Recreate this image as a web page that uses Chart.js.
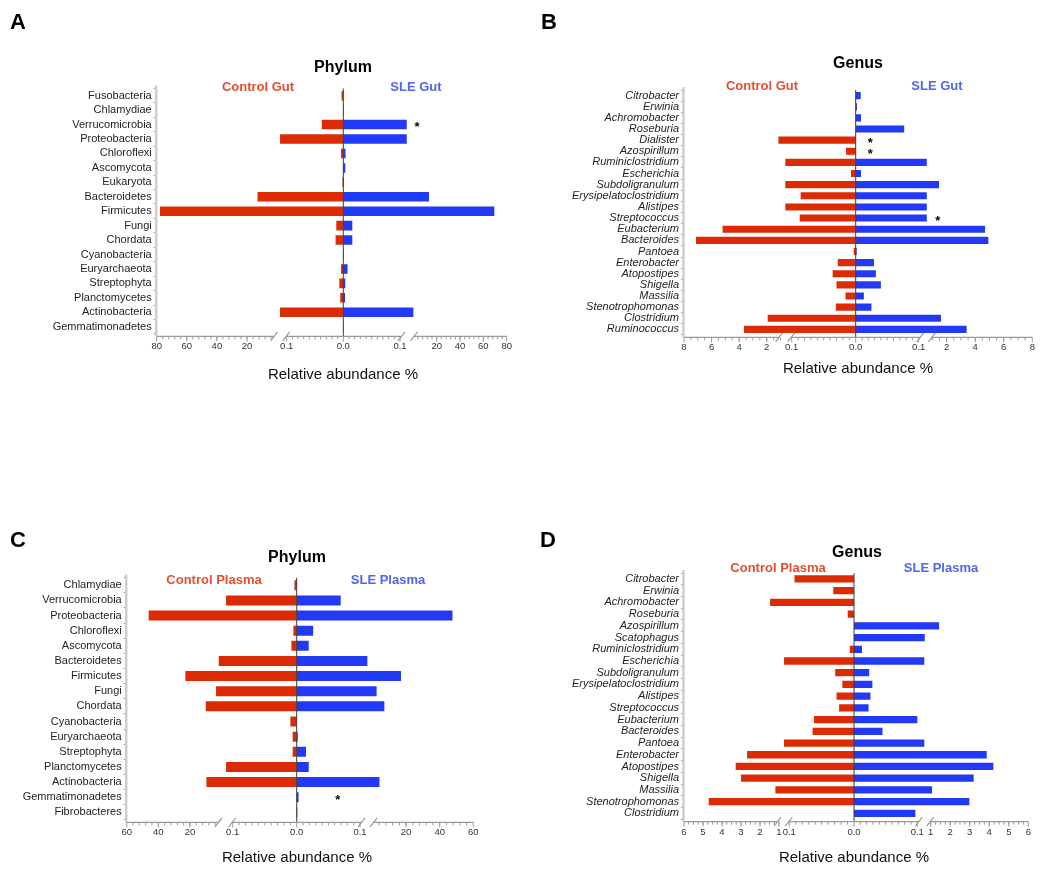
<!DOCTYPE html>
<html>
<head>
<meta charset="utf-8">
<script src="https://cdn.jsdelivr.net/npm/chart.js@4.4.0/dist/chart.umd.min.js"></script>
<style>
  body { margin: 0; background: #fff; font-family: "Liberation Sans", Arial, Helvetica, sans-serif; }
  #wrap { position: relative; width: 1050px; height: 870px; overflow: hidden; }
  canvas { position: absolute; }
  .t { position: absolute; white-space: nowrap; transform: translate(-50%, -50%); line-height: 1; }
  .letter { font-size: 22px; font-weight: bold; color: #000; }
  .ttl { font-size: 16px; font-weight: bold; color: #000; }
  .grp { font-size: 13px; font-weight: bold; }
  .ctl { color: #e4502f; }
  .sle { color: #5165ee; }
  .axt { font-size: 15px; color: #111; }
</style>
</head>
<body>
<div id="wrap">
  <canvas id="cA"></canvas>
  <canvas id="cB"></canvas>
  <canvas id="cC"></canvas>
  <canvas id="cD"></canvas>

  <div class="t letter" style="left:18px;top:22px">A</div>
  <div class="t letter" style="left:549px;top:22px">B</div>
  <div class="t letter" style="left:18px;top:540px">C</div>
  <div class="t letter" style="left:548px;top:540px">D</div>

  <div class="t ttl" style="left:343px;top:67px">Phylum</div>
  <div class="t grp ctl" style="left:258px;top:86px">Control Gut</div>
  <div class="t grp sle" style="left:416px;top:86px">SLE Gut</div>
  <div class="t axt" style="left:343px;top:373px">Relative abundance %</div>

  <div class="t ttl" style="left:858px;top:63px">Genus</div>
  <div class="t grp ctl" style="left:762px;top:85px">Control Gut</div>
  <div class="t grp sle" style="left:937px;top:85px">SLE Gut</div>
  <div class="t axt" style="left:858px;top:367px">Relative abundance %</div>

  <div class="t ttl" style="left:297px;top:557px">Phylum</div>
  <div class="t grp ctl" style="left:214px;top:579px">Control Plasma</div>
  <div class="t grp sle" style="left:388px;top:579px">SLE Plasma</div>
  <div class="t axt" style="left:297px;top:856px">Relative abundance %</div>

  <div class="t ttl" style="left:857px;top:552px">Genus</div>
  <div class="t grp ctl" style="left:778px;top:567px">Control Plasma</div>
  <div class="t grp sle" style="left:941px;top:567px">SLE Plasma</div>
  <div class="t axt" style="left:854px;top:856px">Relative abundance %</div>
</div>

<script>
// ---------- data (relative abundance %) ----------
const phylumGutLabels = ['Fusobacteria', 'Chlamydiae', 'Verrucomicrobia', 'Proteobacteria', 'Chloroflexi', 'Ascomycota', 'Eukaryota', 'Bacteroidetes', 'Firmicutes', 'Fungi', 'Chordata', 'Cyanobacteria', 'Euryarchaeota', 'Streptophyta', 'Planctomycetes', 'Actinobacteria', 'Gemmatimonadetes'];
const phylumGutControl = [0.003, 0.0005, 0.038, 0.64, 0.004, 0.0003, 0.0015, 13, 77.8, 0.0124, 0.0136, 0.0004, 0.004, 0.007, 0.0054, 0.64, 0.0005];
const phylumGutSLE     = [0, 0.0004, 0.52, 0.52, 0.004, 0.0035, 0.0008, 13.4, 69.4, 0.0159, 0.0159, 0.0008, 0.0075, 0.0035, 0.003, 0.93, 0.0004];
const phylumGutTicksLeft  = [80, 60, 40, 20, 0.1];
const phylumGutTicksRight = [0.1, 20, 40, 60, 80];
const phylumGutStars = [['Verrucomicrobia', 3.1]];

const genusGutLabels = ['Citrobacter', 'Erwinia', 'Achromobacter', 'Roseburia', 'Dialister', 'Azospirillum', 'Ruminiclostridium', 'Escherichia', 'Subdoligranulum', 'Erysipelatoclostridium', 'Alistipes', 'Streptococcus', 'Eubacterium', 'Bacteroides', 'Pantoea', 'Enterobacter', 'Atopostipes', 'Shigella', 'Massilia', 'Stenotrophomonas', 'Clostridium', 'Ruminococcus'];
const genusGutControl = [0, 0, 0, 0, 1.15, 0.015, 0.61, 0.0073, 0.61, 0.086, 0.61, 0.0875, 5.2, 7.13, 0.003, 0.028, 0.036, 0.03, 0.016, 0.031, 1.93, 3.65];
const genusGutSLE     = [0.008, 0.002, 0.0084, 0.077, 0, 0, 0.63, 0.0084, 1.46, 0.63, 0.63, 0.63, 4.69, 4.92, 0.0016, 0.029, 0.032, 0.04, 0.013, 0.025, 1.6, 3.4];
const genusGutTicksLeft  = [8, 6, 4, 2, 0.1];
const genusGutTicksRight = [0.1, 2, 4, 6, 8];
const genusGutStars = [['Dialister', 0.023], ['Azospirillum', 0.023], ['Streptococcus', 1.37]];

const phylumPlasmaLabels = ['Chlamydiae', 'Verrucomicrobia', 'Proteobacteria', 'Chloroflexi', 'Ascomycota', 'Bacteroidetes', 'Firmicutes', 'Fungi', 'Chordata', 'Cyanobacteria', 'Euryarchaeota', 'Streptophyta', 'Planctomycetes', 'Actinobacteria', 'Gemmatimonadetes', 'Fibrobacteres'];
const phylumPlasmaControl = [0.0036, 0.57, 46.1, 0.0052, 0.0083, 1.8, 22.9, 3.5, 10, 0.0099, 0.0063, 0.0063, 0.57, 9.6, 0, 0];
const phylumPlasmaSLE     = [0, 0.0695, 47.6, 0.026, 0.019, 0.57, 17, 2.5, 7.1, 0, 0.0016, 0.0147, 0.019, 4.2, 0.003, 0.001];
const phylumPlasmaTicksLeft  = [60, 40, 20, 0.1];
const phylumPlasmaTicksRight = [0.1, 20, 40, 60];
const phylumPlasmaStars = [['Gemmatimonadetes', 0.065]];

const genusPlasmaLabels = ['Citrobacter', 'Erwinia', 'Achromobacter', 'Roseburia', 'Azospirillum', 'Scatophagus', 'Ruminiclostridium', 'Escherichia', 'Subdoligranulum', 'Erysipelatoclostridium', 'Alistipes', 'Streptococcus', 'Eubacterium', 'Bacteroides', 'Pantoea', 'Enterobacter', 'Atopostipes', 'Shigella', 'Massilia', 'Stenotrophomonas', 'Clostridium'];
const genusPlasmaControl = [0.092, 0.032, 1.47, 0.0097, 0, 0, 0.0066, 0.56, 0.029, 0.018, 0.027, 0.023, 0.062, 0.064, 0.56, 2.68, 3.28, 3.0, 1.19, 4.7, 0];
const genusPlasmaSLE     = [0, 0, 0, 0, 1.43, 0.6, 0.0126, 0.57, 0.024, 0.029, 0.026, 0.023, 0.1, 0.045, 0.57, 3.87, 4.21, 3.2, 1.07, 2.98, 0.097];
const genusPlasmaTicksLeft  = [6, 5, 4, 3, 2, 1, 0.1];
const genusPlasmaTicksRight = [0.1, 1, 2, 3, 4, 5, 6];
const genusPlasmaStars = [];

// ---------- look ----------
const RED = '#dc2b03';
const BLUE = '#2239f6';
const AXIS = '#9a9a9a';

Chart.defaults.font.family = "'Liberation Sans', Arial, Helvetica, sans-serif";
Chart.defaults.animation = false;

// piecewise linear mapping of a value onto the broken axis (knots: [value, offset])
function fwd(knots, v) {
    for (let i = 1; i < knots.length; i++) {
        const [v0, p0] = knots[i - 1];
        const [v1, p1] = knots[i];
        if (v <= v1 || i === knots.length - 1) {
            return p0 + (v - v0) * (p1 - p0) / (v1 - v0);
        }
    }
    return 0;
}

function fmt(v) {
    return v === 0 ? '0.0' : String(v);
}

// draws the broken x axis, zero line, y axis line and significance stars
const brokenAxis = {
    id: 'brokenAxis',
    afterDatasetsDraw(chart, args, o) {
        const ctx = chart.ctx;
        const xs = chart.scales.x;
        const ys = chart.scales.y;
        const a = chart.chartArea;
        const yAx = a.bottom + 2.5;
        const L = d => xs.getPixelForValue(-d);
        const R = d => xs.getPixelForValue(d);
        const sI = o.knotsL[1][1], sO = o.knotsL[2][1];
        const rI = o.knotsR[1][1], rO = o.knotsR[2][1];
        const maxL = fwd(o.knotsL, o.ticksL[0]);
        const maxR = fwd(o.knotsR, o.ticksR[o.ticksR.length - 1]);

        ctx.save();
        // zero line
        ctx.strokeStyle = '#3a3a3a';
        ctx.lineWidth = 1;
        ctx.beginPath();
        ctx.moveTo(R(0), a.top);
        ctx.lineTo(R(0), yAx);
        ctx.stroke();

        // y axis line
        ctx.strokeStyle = '#cdcdcd';
        ctx.lineWidth = 2.5;
        ctx.beginPath();
        ctx.moveTo(a.left - 0.5, a.top - 3);
        ctx.lineTo(a.left - 0.5, yAx);
        ctx.stroke();

        // x axis segments
        ctx.strokeStyle = AXIS;
        ctx.lineWidth = 1.2;
        const segs = [[L(maxL), L(sO + 1.5)], [L(sI + 0.5), R(rI + 1.5)], [R(rO - 0.5), R(maxR)]];
        ctx.beginPath();
        segs.forEach(s => { ctx.moveTo(s[0], yAx); ctx.lineTo(s[1], yAx); });
        // break slashes
        [L(sO + 1.5), L(sI + 0.5), R(rI + 1.5), R(rO - 0.5)].forEach(x => {
            ctx.moveTo(x - 3.5, yAx + 4.5);
            ctx.lineTo(x + 3.5, yAx - 4.5);
        });
        ctx.stroke();

        // major ticks
        ctx.lineWidth = 1;
        ctx.beginPath();
        xs.ticks.forEach(t => {
            const x = xs.getPixelForValue(t.value);
            ctx.moveTo(x, yAx);
            ctx.lineTo(x, yAx + 5);
        });
        // minor ticks
        const minor = (knots, step, from, to, sign) => {
            for (let v = from; v < to - 1e-9; v += step) {
                const x = xs.getPixelForValue(sign * fwd(knots, v));
                ctx.moveTo(x, yAx);
                ctx.lineTo(x, yAx + 3);
            }
        };
        minor(o.knotsL, 0.01, 0.01, 0.1, -1);
        minor(o.knotsR, 0.01, 0.01, 0.1, 1);
        minor(o.knotsL, o.minorL, o.ticksL[0] - o.minorL * Math.floor((o.ticksL[0] - 1) / o.minorL), o.ticksL[0], -1);
        minor(o.knotsR, o.minorR, o.ticksR[o.ticksR.length - 1] - o.minorR * Math.floor((o.ticksR[o.ticksR.length - 1] - 1) / o.minorR), o.ticksR[o.ticksR.length - 1], 1);
        ctx.stroke();

        // stars
        ctx.fillStyle = '#000';
        ctx.font = 'bold 13px "Liberation Sans", Arial, sans-serif';
        ctx.textAlign = 'center';
        ctx.textBaseline = 'middle';
        o.stars.forEach(([name, v]) => {
            const y = ys.getPixelForValue(o.cats.indexOf(name));
            ctx.fillText('*', R(fwd(o.knotsR, v)), y + 3);
        });
        ctx.restore();
    }
};

function makePanel(id, cfg) {
    const canvas = document.getElementById(id);
    const [bx, by, bw, bh] = cfg.box;
    const [al, at, ar, ab] = cfg.area;
    canvas.width = bw;
    canvas.height = bh;
    canvas.style.left = bx + 'px';
    canvas.style.top = by + 'px';
    canvas.style.width = bw + 'px';
    canvas.style.height = bh + 'px';

    const xh = 30;
    const minX = -fwd(cfg.knotsL, cfg.ticksL[0]);
    const maxX = fwd(cfg.knotsR, cfg.ticksR[cfg.ticksR.length - 1]);

    const tickList = [];
    cfg.ticksL.forEach(v => tickList.push({ value: -fwd(cfg.knotsL, v), label: fmt(v) }));
    tickList.push({ value: 0, label: '0.0' });
    cfg.ticksR.forEach(v => tickList.push({ value: fwd(cfg.knotsR, v), label: fmt(v) }));

    return new Chart(canvas, {
        type: 'bar',
        data: {
            labels: cfg.cats,
            datasets: [{
                label: 'Control',
                data: cfg.control.map(v => -fwd(cfg.knotsL, v)),
                backgroundColor: RED,
                borderWidth: 0
            }, {
                label: 'SLE',
                data: cfg.sle.map(v => fwd(cfg.knotsR, v)),
                backgroundColor: BLUE,
                borderWidth: 0
            }]
        },
        options: {
            indexAxis: 'y',
            responsive: false,
            devicePixelRatio: 1,
            events: [],
            barPercentage: 1,
            categoryPercentage: cfg.bar,
            layout: {
                padding: { left: al - bx - cfg.yw, top: at - by, right: bx + bw - ar, bottom: by + bh - ab - xh }
            },
            plugins: {
                legend: { display: false },
                tooltip: { enabled: false },
                brokenAxis: {
                    knotsL: cfg.knotsL, knotsR: cfg.knotsR,
                    ticksL: cfg.ticksL, ticksR: cfg.ticksR,
                    minorL: cfg.minorL, minorR: cfg.minorR,
                    stars: cfg.stars, cats: cfg.cats
                }
            },
            scales: {
                x: {
                    type: 'linear',
                    stacked: true,
                    min: minX,
                    max: maxX,
                    grid: { display: false, drawTicks: false },
                    border: { display: false },
                    afterBuildTicks: s => { s.ticks = tickList.map(t => ({ value: t.value })); },
                    afterFit: s => { s.height = xh; },
                    ticks: {
                        autoSkip: false,
                        maxRotation: 0,
                        minRotation: 0,
                        padding: 7,
                        color: '#333',
                        font: { size: 9.5 },
                        callback: (val, i) => tickList[i] ? tickList[i].label : ''
                    }
                },
                y: {
                    type: 'category',
                    stacked: true,
                    grid: { display: true, drawOnChartArea: false, tickLength: 3, color: '#9a9a9a', lineWidth: 1 },
                    border: { display: false },
                    afterFit: s => { s.width = cfg.yw; },
                    ticks: {
                        autoSkip: false,
                        padding: 2,
                        color: '#1e1e1e',
                        font: { size: 11, style: cfg.italic ? 'italic' : 'normal' }
                    }
                }
            }
        },
        plugins: [brokenAxis]
    });
}

makePanel('cA', {
    cats: phylumGutLabels, control: phylumGutControl, sle: phylumGutSLE,
    ticksL: phylumGutTicksLeft, ticksR: phylumGutTicksRight, stars: phylumGutStars,
    box: [0, 0, 525, 435], area: [156.7, 88.5, 506.7, 333.9], yw: 140, bar: 0.66,
    knotsL: [[0, 0], [0.1, 56.6], [1, 67.7], [80, 186.6]],
    knotsR: [[0, 0], [0.1, 56.7], [1, 71.2], [80, 163.4]],
    minorL: 4, minorR: 4, italic: false
});

makePanel('cB', {
    cats: genusGutLabels, control: genusGutControl, sle: genusGutSLE,
    ticksL: genusGutTicksLeft, ticksR: genusGutTicksRight, stars: genusGutStars,
    box: [525, 0, 525, 435], area: [684, 90.1, 1032.3, 334.9], yw: 150, bar: 0.64,
    knotsL: [[0, 0], [0.1, 64], [1, 75.2], [8, 171.7]],
    knotsR: [[0, 0], [0.1, 63], [1, 76.7], [8, 176.6]],
    minorL: 0.5, minorR: 0.5, italic: true
});

makePanel('cC', {
    cats: phylumPlasmaLabels, control: phylumPlasmaControl, sle: phylumPlasmaSLE,
    ticksL: phylumPlasmaTicksLeft, ticksR: phylumPlasmaTicksRight, stars: phylumPlasmaStars,
    box: [0, 435, 525, 435], area: [126.7, 577.7, 473.3, 819.9], yw: 115, bar: 0.66,
    knotsL: [[0, 0], [0.1, 64], [1, 76.7], [60, 170]],
    knotsR: [[0, 0], [0.1, 63.3], [1, 77.4], [60, 176.6]],
    minorL: 4, minorR: 4, italic: false
});

makePanel('cD', {
    cats: genusPlasmaLabels, control: genusPlasmaControl, sle: genusPlasmaSLE,
    ticksL: genusPlasmaTicksLeft, ticksR: genusPlasmaTicksRight, stars: genusPlasmaStars,
    box: [525, 435, 525, 435], area: [684, 573.1, 1028.3, 819.2], yw: 150, bar: 0.62,
    knotsL: [[0, 0], [0.1, 64.7], [1, 75], [6, 170]],
    knotsR: [[0, 0], [0.1, 63.3], [1, 76.7], [6, 174.3]],
    minorL: 0.25, minorR: 0.25, italic: true
});
</script>
</body>
</html>
